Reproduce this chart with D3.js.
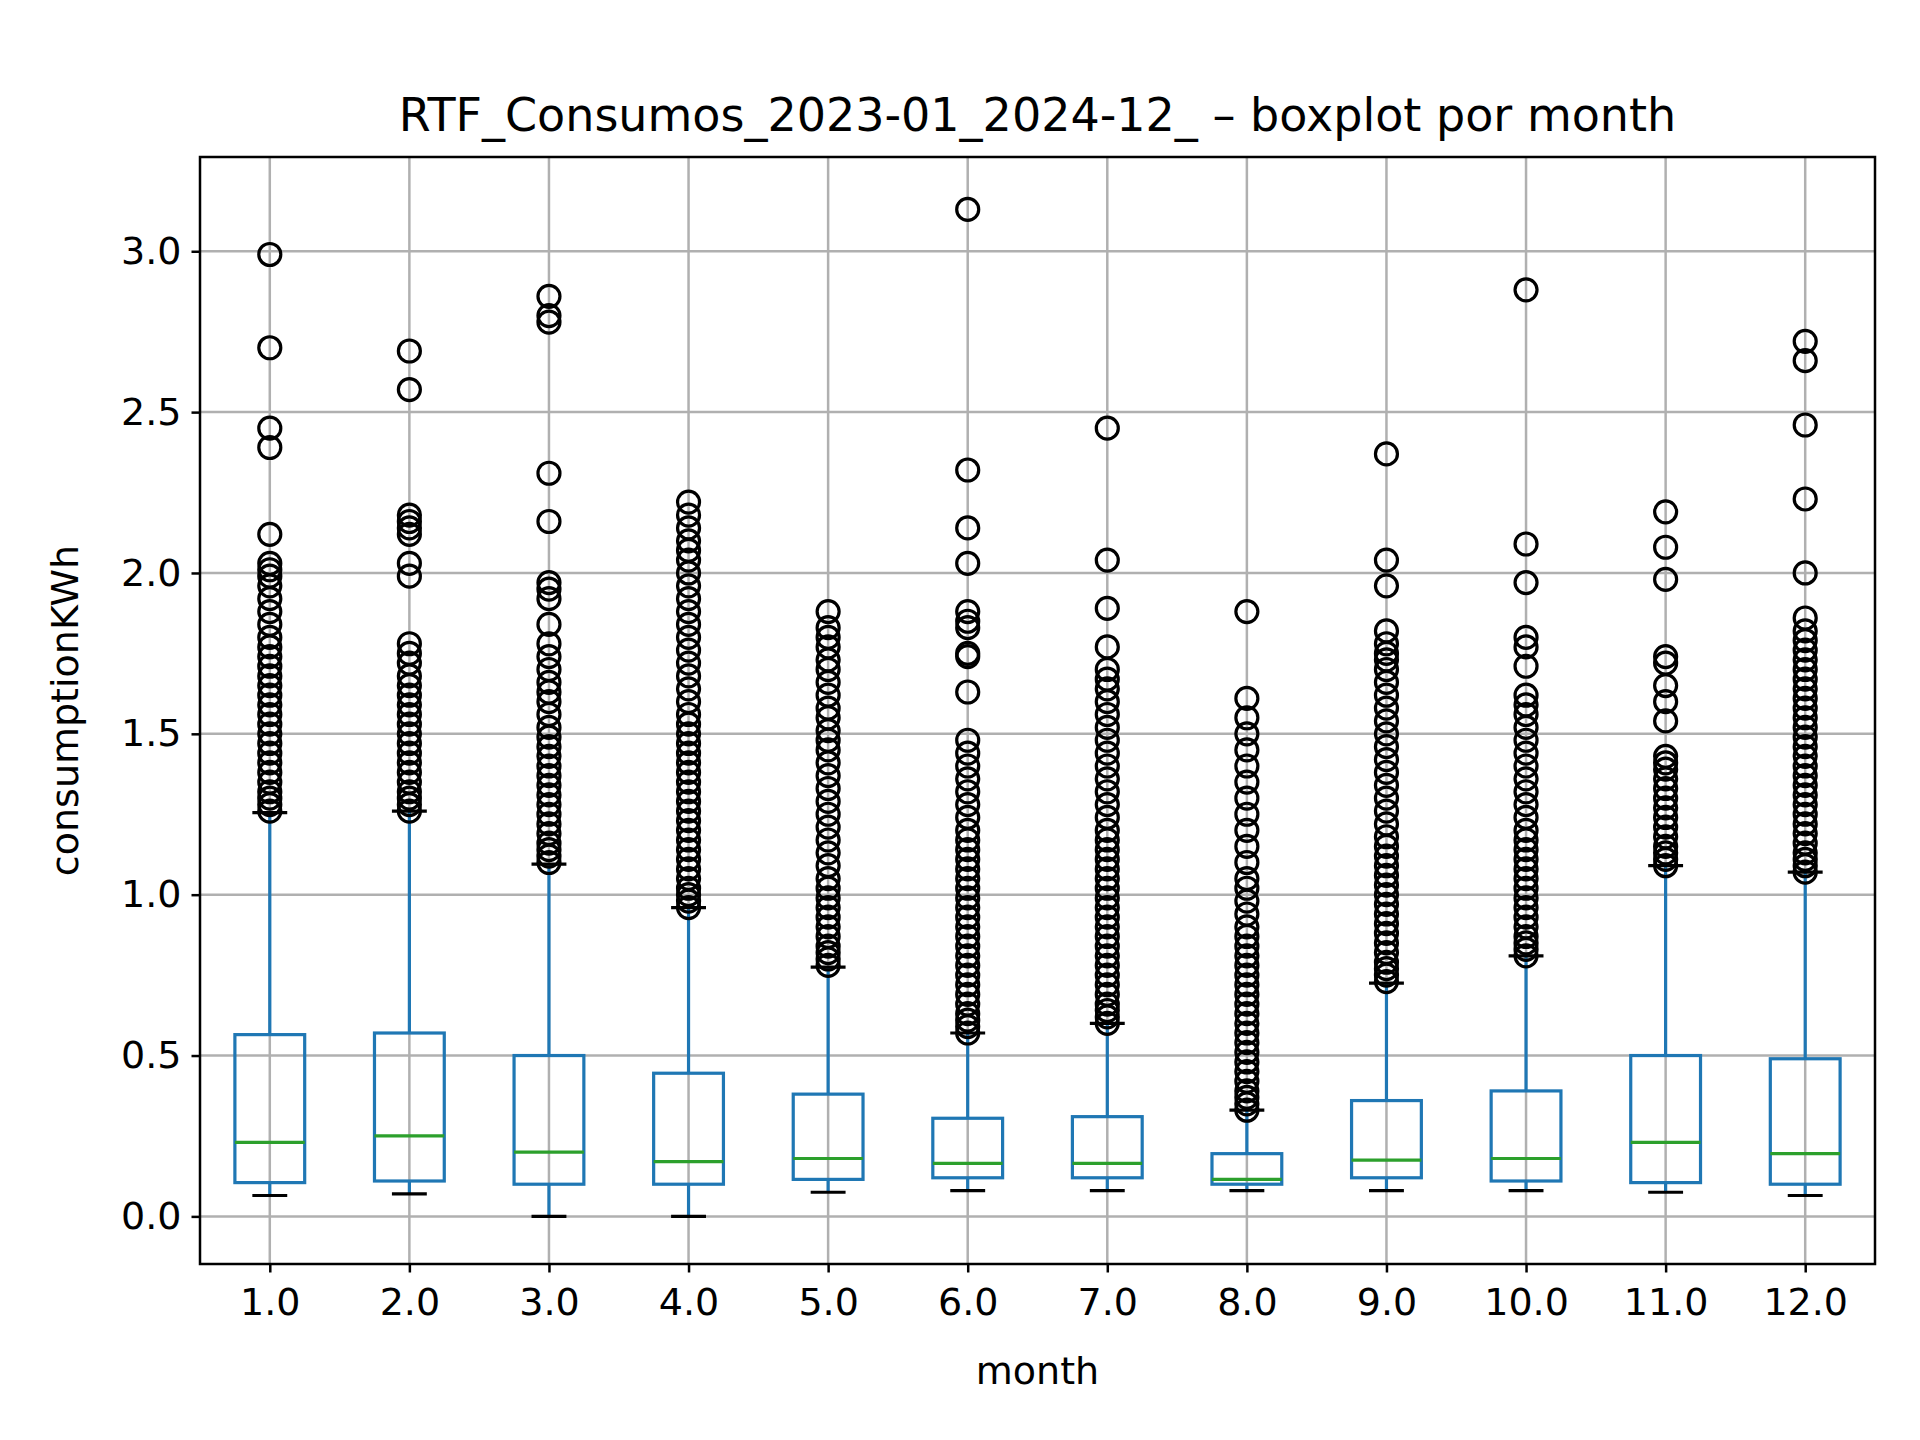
<!DOCTYPE html>
<html><head><meta charset="utf-8">
<script src="https://cdn.jsdelivr.net/npm/d3@7"></script>
<style>body{margin:0;background:#fff}text{font-family:"DejaVu Sans",sans-serif}</style>
</head><body>
<svg id="chart" width="1920" height="1440"></svg>
<script>
// box stats per month
var months = [1,2,3,4,5,6,7,8,9,10,11,12];
var q1  = [0.105,0.11,0.10,0.10,0.115,0.12,0.12,0.10,0.12,0.11,0.105,0.10];
var med = [0.23,0.25,0.20,0.17,0.18,0.165,0.165,0.115,0.175,0.18,0.23,0.195];
var q3  = [0.565,0.57,0.50,0.445,0.38,0.305,0.31,0.195,0.36,0.39,0.50,0.49];
var wlo = [0.065,0.07,0.0,0.0,0.075,0.08,0.08,0.08,0.08,0.08,0.075,0.065];
var whi = [1.255,1.26,1.095,0.96,0.775,0.57,0.60,0.33,0.725,0.81,1.09,1.07];
var fliers = [
  [1.26,1.28,1.30,1.32,1.35,1.38,1.41,1.44,1.47,1.50,1.53,1.56,1.59,1.62,1.65,1.68,1.71,1.74,1.77,1.80,1.84,1.88,1.92,1.96,1.99,2.01,2.03,2.12,2.39,2.45,2.70,2.99],
  [1.26,1.28,1.30,1.32,1.35,1.38,1.41,1.44,1.47,1.50,1.53,1.56,1.59,1.62,1.65,1.68,1.72,1.75,1.78,1.99,2.03,2.12,2.14,2.16,2.18,2.57,2.69],
  [1.10,1.12,1.14,1.16,1.19,1.22,1.25,1.28,1.31,1.34,1.37,1.40,1.43,1.46,1.49,1.52,1.56,1.60,1.63,1.66,1.70,1.74,1.78,1.84,1.92,1.95,1.97,2.16,2.31,2.78,2.80,2.86],
  [0.96,0.98,1.00,1.02,1.05,1.08,1.11,1.14,1.17,1.20,1.23,1.26,1.29,1.32,1.35,1.38,1.41,1.44,1.47,1.50,1.53,1.56,1.60,1.64,1.68,1.72,1.76,1.80,1.84,1.88,1.92,1.96,2.00,2.04,2.07,2.10,2.14,2.18,2.22],
  [0.78,0.80,0.82,0.84,0.87,0.90,0.93,0.96,0.99,1.02,1.05,1.09,1.13,1.17,1.21,1.25,1.29,1.33,1.37,1.41,1.45,1.48,1.51,1.55,1.58,1.62,1.66,1.70,1.73,1.77,1.80,1.83,1.88],
  [0.57,0.59,0.61,0.63,0.66,0.69,0.72,0.75,0.78,0.81,0.84,0.87,0.90,0.93,0.96,0.99,1.02,1.05,1.08,1.11,1.14,1.17,1.20,1.24,1.28,1.32,1.36,1.40,1.44,1.48,1.63,1.74,1.75,1.83,1.85,1.88,2.03,2.14,2.32,3.13],
  [0.60,0.62,0.64,0.66,0.69,0.72,0.75,0.78,0.81,0.84,0.87,0.90,0.93,0.96,0.99,1.02,1.05,1.08,1.11,1.14,1.17,1.20,1.24,1.28,1.32,1.36,1.40,1.44,1.48,1.52,1.56,1.60,1.64,1.67,1.70,1.77,1.89,2.04,2.45],
  [0.33,0.35,0.37,0.39,0.42,0.45,0.48,0.51,0.54,0.57,0.60,0.63,0.66,0.69,0.72,0.75,0.78,0.81,0.84,0.87,0.90,0.94,0.98,1.02,1.05,1.10,1.15,1.20,1.25,1.30,1.35,1.40,1.45,1.50,1.55,1.61,1.88],
  [0.73,0.75,0.77,0.79,0.82,0.85,0.88,0.91,0.94,0.97,1.00,1.03,1.06,1.09,1.12,1.15,1.18,1.22,1.26,1.30,1.34,1.38,1.42,1.46,1.50,1.54,1.58,1.62,1.66,1.70,1.73,1.75,1.78,1.82,1.96,2.04,2.37],
  [0.81,0.83,0.85,0.87,0.90,0.93,0.96,0.99,1.02,1.05,1.08,1.11,1.14,1.17,1.20,1.24,1.28,1.32,1.36,1.40,1.44,1.48,1.52,1.56,1.59,1.62,1.71,1.77,1.80,1.97,2.09,2.88],
  [1.09,1.11,1.13,1.15,1.18,1.21,1.24,1.27,1.30,1.33,1.36,1.39,1.41,1.43,1.54,1.60,1.65,1.72,1.74,1.98,2.08,2.19],
  [1.07,1.09,1.11,1.13,1.16,1.19,1.22,1.25,1.28,1.31,1.34,1.37,1.40,1.43,1.46,1.49,1.52,1.55,1.58,1.61,1.64,1.67,1.70,1.73,1.76,1.79,1.82,1.86,2.00,2.23,2.46,2.66,2.72]
];
var yTicks = [0.0,0.5,1.0,1.5,2.0,2.5,3.0];

var L = 200, R = 1875, T = 157, B = 1264;
var svg = d3.select("#chart");
var x = d3.scaleLinear().domain([0.5,12.5]).range([L,R]);
var y = d3.scaleLinear().domain([-0.148,3.293]).range([B,T]);
var bw = (x(1.25)-x(0.75));

// grid
svg.append("g").selectAll("line").data(months).join("line")
  .attr("x1",d=>x(d)).attr("x2",d=>x(d)).attr("y1",T).attr("y2",B)
  .attr("stroke","#b0b0b0").attr("stroke-width",2.5);
svg.append("g").selectAll("line").data(yTicks).join("line")
  .attr("y1",d=>y(d)).attr("y2",d=>y(d)).attr("x1",L).attr("x2",R)
  .attr("stroke","#b0b0b0").attr("stroke-width",2.5);

var g = svg.append("g");
months.forEach(function(m,i){
  var cx = x(m);
  g.append("line").attr("x1",cx).attr("x2",cx).attr("y1",y(q1[i])).attr("y2",y(wlo[i]))
    .attr("stroke","#1f77b4").attr("stroke-width",3.2);
  g.append("line").attr("x1",cx).attr("x2",cx).attr("y1",y(q3[i])).attr("y2",y(whi[i]))
    .attr("stroke","#1f77b4").attr("stroke-width",3.2);
  [wlo[i],whi[i]].forEach(function(v){
    g.append("line").attr("x1",cx-bw/4).attr("x2",cx+bw/4).attr("y1",y(v)).attr("y2",y(v))
      .attr("stroke","#000").attr("stroke-width",3.2);
  });
  g.append("rect").attr("x",cx-bw/2).attr("width",bw).attr("y",y(q3[i])).attr("height",y(q1[i])-y(q3[i]))
    .attr("fill","none").attr("stroke","#1f77b4").attr("stroke-width",3.2);
  g.append("line").attr("x1",cx-bw/2).attr("x2",cx+bw/2).attr("y1",y(med[i])).attr("y2",y(med[i]))
    .attr("stroke","#2ca02c").attr("stroke-width",3.2);
  g.append("g").selectAll("circle").data(fliers[i]).join("circle")
    .attr("cx",cx).attr("cy",d=>y(d)).attr("r",11)
    .attr("fill","none").attr("stroke","#000").attr("stroke-width",3.2);
});

// axes
var ax = svg.append("g").attr("transform","translate(0,"+B+")")
  .call(d3.axisBottom(x).tickValues(months).tickFormat(d=>d.toFixed(1)).tickSize(8.5).tickPadding(16));
var ay = svg.append("g").attr("transform","translate("+L+",0)")
  .call(d3.axisLeft(y).tickValues(yTicks).tickFormat(d=>d.toFixed(1)).tickSize(8.5).tickPadding(10));
[ax,ay].forEach(function(a){
  a.select(".domain").remove();
  a.selectAll("line").attr("stroke","#000").attr("stroke-width",2.5);
  a.selectAll("text").attr("font-size",38).attr("fill","#000");
});
svg.append("rect").attr("x",L).attr("y",T).attr("width",R-L).attr("height",B-T)
  .attr("fill","none").attr("stroke","#000").attr("stroke-width",2.5);

svg.append("text").attr("x",(L+R)/2).attr("y",131).attr("text-anchor","middle")
  .attr("font-size",46).text("RTF_Consumos_2023-01_2024-12_ \u2013 boxplot por month");
svg.append("text").attr("x",(L+R)/2).attr("y",1384).attr("text-anchor","middle")
  .attr("font-size",38).text("month");
svg.append("text").attr("transform","translate(78,"+((T+B)/2)+") rotate(-90)").attr("text-anchor","middle")
  .attr("font-size",38).text("consumptionKWh");
</script>
</body></html>
